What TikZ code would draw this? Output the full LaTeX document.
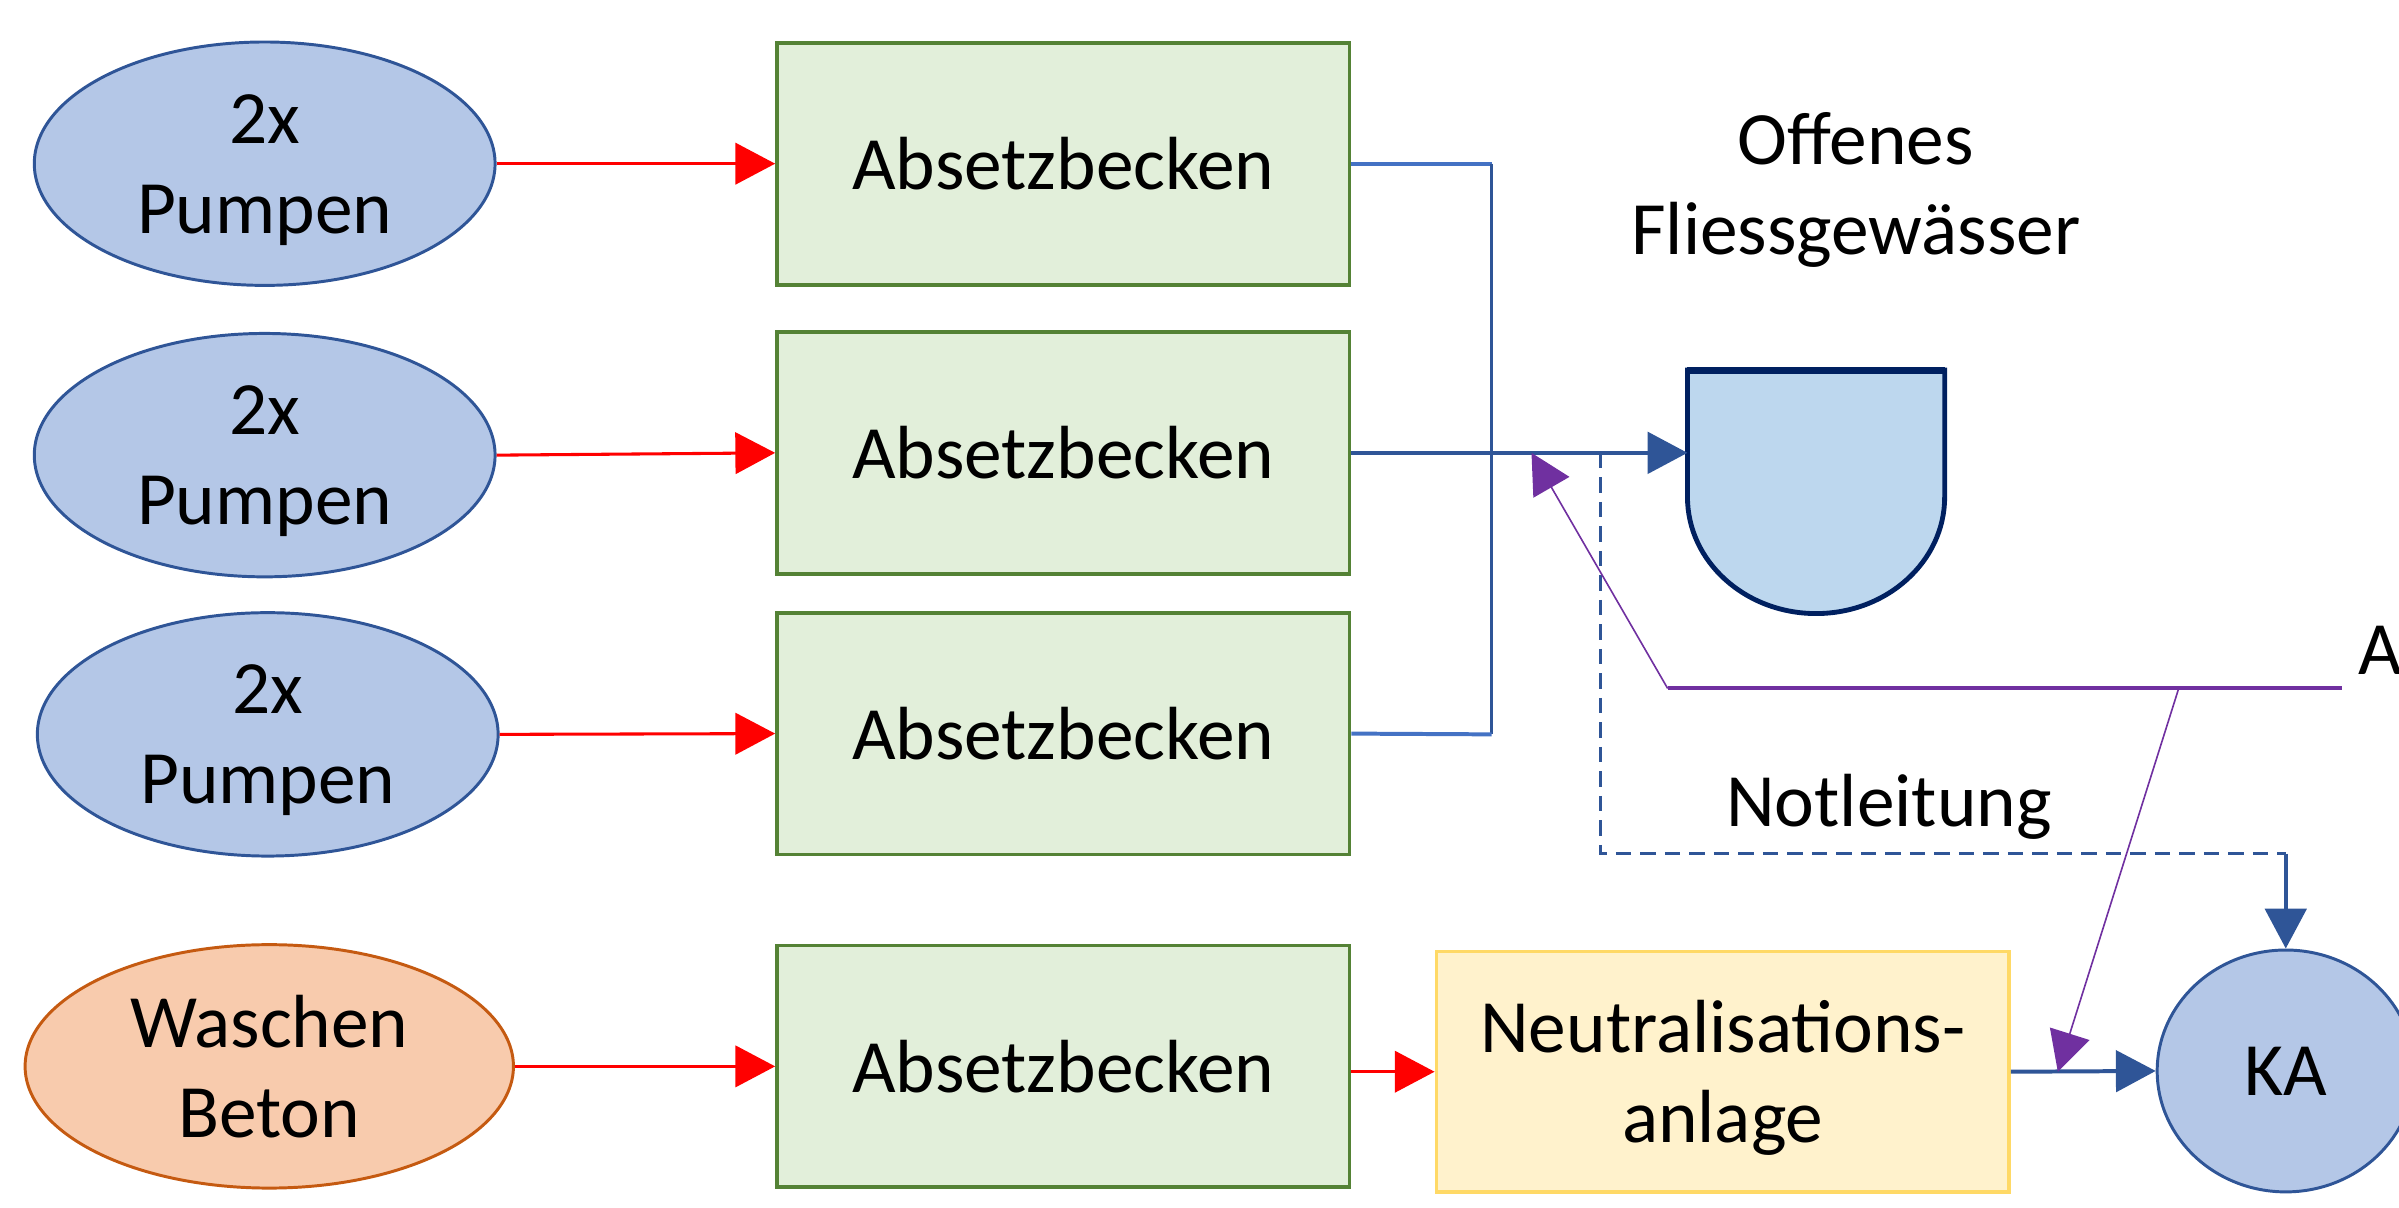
\documentclass[tikz,border=0pt]{standalone}
\usepackage{fontspec}
\setmainfont{Carlito}
\usetikzlibrary{arrows.meta,shapes.geometric,calc}
\definecolor{pumpfill}{HTML}{B4C7E7}
\definecolor{pumpdraw}{HTML}{2F5597}
\definecolor{boxfill}{HTML}{E2EFDA}
\definecolor{boxdraw}{HTML}{548235}
\definecolor{washfill}{HTML}{F8CBAD}
\definecolor{washdraw}{HTML}{C55A11}
\definecolor{neutfill}{HTML}{FFF2CC}
\definecolor{neutdraw}{HTML}{FFD966}
\definecolor{rivfill}{HTML}{BDD7EE}
\definecolor{rivdraw}{HTML}{002060}
\definecolor{lineblue}{HTML}{2F5597}
\definecolor{lightblue}{HTML}{4472C4}
\definecolor{purp}{HTML}{7030A0}
\definecolor{redline}{HTML}{FF0000}
\tikzset{
  txt/.style={font=\fontsize{14}{16.7}\selectfont, inner sep=0pt},
  pumpnode/.style={txt, ellipse, draw=pumpdraw, fill=pumpfill, line width=0.55pt,
    minimum width=3.01cm, minimum height=1.59cm, align=center, text depth=0pt},
  washnode/.style={txt, ellipse, draw=washdraw, fill=washfill, line width=0.55pt,
    minimum width=3.19cm, minimum height=1.59cm, align=center},
  boxnode/.style={txt, rectangle, draw=boxdraw, fill=boxfill, line width=0.7pt,
    minimum width=3.74cm, minimum height=1.58cm},
  neutnode/.style={txt, rectangle, draw=neutdraw, fill=neutfill, line width=0.7pt,
    minimum width=3.74cm, minimum height=1.57cm, align=center, text depth=0pt},
  kanode/.style={txt, ellipse, draw=pumpdraw, fill=pumpfill, line width=0.55pt,
    minimum width=1.68cm, minimum height=1.58cm},
  tip/.style={-{Triangle[length=0.26cm,width=0.27cm]}},
  redarrow/.style={tip, draw=redline, fill=redline, line width=0.57pt},
  bluearrow/.style={tip, draw=lineblue, fill=lineblue, line width=0.74pt},
  blueline/.style={draw=lineblue, line width=0.6pt},
  lightline/.style={draw=lightblue, line width=0.74pt},
  dashblue/.style={draw=lineblue, line width=0.65pt, dash pattern=on 0.1cm off 0.06cm},
  purpthick/.style={draw=purp, line width=0.74pt},
  purparrow/.style={tip, draw=purp, fill=purp, line width=0.3pt},
  rivstyle/.style={draw=rivdraw, fill=rivfill, line width=0.9pt}
}
\begin{document}
\begin{tikzpicture}[x=0.01cm,y=-0.01cm]
\useasboundingbox (0,0) rectangle (1568,789);
\clip (0,0) rectangle (1568,789);

% sources
\node[pumpnode] (e1) at (173,107) {2x\\Pumpen};
\node[pumpnode] (e2) at (173,297.5) {2x\\Pumpen};
\node[pumpnode] (e3) at (175,480) {2x\\Pumpen};
\node[washnode] (w) at (176,697) {Waschen\\Beton};

% basins
\node[boxnode] (b1) at (695,107) {Absetzbecken};
\node[boxnode] (b2) at (695,296) {Absetzbecken};
\node[boxnode] (b3) at (695,479.5) {Absetzbecken};
\node[boxnode] (b4) at (695,697) {Absetzbecken};

\node[neutnode] (n) at (1126,700.5) {Neutralisations-\\anlage};
\node[kanode] (ka) at (1494,700) {KA};

% river
\node[minimum width=1.68cm, minimum height=1.59cm, inner sep=0pt, outer sep=0pt] (fg) at (1187,321.5) {};
\draw[rivstyle] (fg.north west) -- (fg.north east) -- ($(fg.north east)+(0,83)$)
  .. controls ($(fg.north east)+(0,125)$) and ($(fg.south)+(46.4,0)$) .. (fg.south)
  .. controls ($(fg.south)+(-46.4,0)$) and ($(fg.north west)+(0,125)$) .. ($(fg.north west)+(0,83)$) -- cycle;
\draw[draw=rivdraw, line width=1.3pt] (fg.north west) -- (fg.north east);

% labels
\node[txt, align=center] (lbfg) at (1213,124) {Offenes\\Fliessgewässer};
\node[txt, anchor=base] (lbnot) at (1234.6,540) {Notleitung};
\node[txt, anchor=base west] (lba) at (1541,441) {A};

% red arrows
\draw[redarrow] (e1.east) -- (b1.west);
\draw[redarrow] (e2.east) -- (b2.west);
\draw[redarrow] (e3.east) -- (b3.west);
\draw[redarrow] (w.east) -- (b4.west);
\draw[redarrow] (b4.east |- n.west) -- (n.west);

% blue collector
\coordinate (c1) at (975,107);
\coordinate (c3) at (975,480);
\draw[lightline] (b1.east) -- (c1);
\draw[blueline] (c1) -- (c3);
\draw[lightline] (c3) -- (b3.east);
\draw[bluearrow] (b2.east) -- (b2.east -| fg.west);

% Notleitung
\coordinate (j) at (1046,296);
\coordinate (nk) at (1494,558);
\draw[dashblue] (j) |- (nk);
\draw[bluearrow] (nk) -- (ka.north);

% Neutralisation to KA
\draw[bluearrow] (n.east) -- (ka.west);

% purple
\coordinate (p0) at (1090,450);
\coordinate (pA) at (1531,450);
\coordinate (p2) at (1424,450);
\coordinate (t1) at (1001,296);
\coordinate (t2) at (1345,700.5);
\draw[purpthick] (p0) -- (pA);
\draw[purparrow] (p0) -- (t1);
\draw[purparrow] (p2) -- (t2);
\end{tikzpicture}
\end{document}
